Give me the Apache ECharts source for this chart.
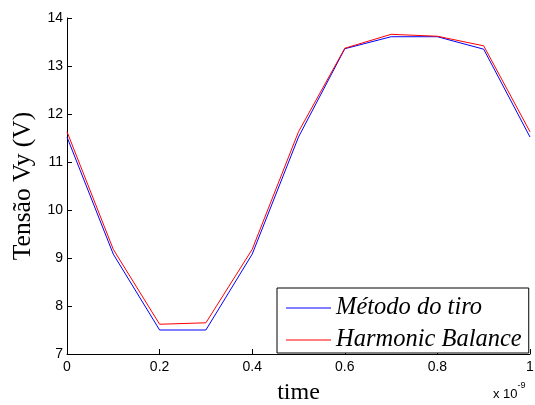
<!DOCTYPE html>
<html>
<head>
<meta charset="utf-8">
<script src="https://cdn.jsdelivr.net/npm/echarts@6/dist/echarts.min.js"></script>
<style>html,body{margin:0;padding:0;background:#fff;}#c{width:535px;height:405px;}</style>
</head>
<body>
<div id="c"></div>
<script>
var timeValues = [0, 0.1, 0.2, 0.3, 0.4, 0.5, 0.6, 0.7, 0.8, 0.9, 1.0];
var metodoDoTiro = [11.52, 9.08, 7.50, 7.50, 9.08, 11.52, 13.36, 13.61, 13.61, 13.35, 11.52];
var harmonicBalance = [11.63, 9.18, 7.62, 7.65, 9.18, 11.63, 13.37, 13.66, 13.62, 13.42, 11.63];
var seriesNames = ['Método do tiro', 'Harmonic Balance'];

function pairs(xs, ys) { return xs.map(function (x, i) { return [x, ys[i]]; }); }

var chart = echarts.init(document.getElementById('c'), null, { renderer: 'canvas' });
var sans = 'Liberation Sans';
var serif = 'Liberation Serif';
chart.setOption({
  animation: false,
  backgroundColor: '#fff',
  grid: { left: 67, right: 5, top: 18, bottom: 51, containLabel: false, outerBoundsMode: 'none' },
  xAxis: {
    type: 'value', min: 0, max: 1, interval: 0.2,
    name: 'time', nameLocation: 'middle', nameGap: 27,
    nameTextStyle: { fontFamily: serif, fontSize: 24, color: '#000' },
    axisLine: { show: true, lineStyle: { color: '#000', width: 1 } },
    axisTick: { show: true, inside: true, length: 5, lineStyle: { color: '#000' } },
    axisLabel: { fontFamily: sans, fontSize: 14, color: '#000', margin: 6,
      formatter: function (v) { return String(Math.round(v * 10) / 10); } },
    splitLine: { show: false }
  },
  yAxis: {
    type: 'value', min: 7, max: 14, interval: 1,
    name: 'Tensão Vy (V)', nameLocation: 'middle', nameGap: 24, nameRotate: 90,
    nameTextStyle: { fontFamily: serif, fontSize: 25.5, color: '#000' },
    axisLine: { show: true, lineStyle: { color: '#000', width: 1 } },
    axisTick: { show: true, inside: true, length: 5, lineStyle: { color: '#000' } },
    axisLabel: { fontFamily: sans, fontSize: 14, color: '#000', margin: 4 },
    splitLine: { show: false }
  },
  legend: {
    orient: 'vertical', left: 277, top: 288,
    padding: [7, 7, 0, 9], itemGap: 6, itemWidth: 45, itemHeight: 12,
    borderColor: '#000', borderWidth: 1, backgroundColor: '#fff',
    textStyle: { fontFamily: serif, fontStyle: 'italic', fontSize: 24.5, lineHeight: 26, color: '#000' },
    data: [
      { name: seriesNames[0], icon: 'path://M0,0 L45,0 L45,1 L0,1 Z' },
      { name: seriesNames[1], icon: 'path://M0,0 L45,0 L45,1 L0,1 Z' }
    ]
  },
  series: [
    { name: seriesNames[0], type: 'line', data: pairs(timeValues, metodoDoTiro), symbol: 'none',
      color: '#0000ff', lineStyle: { color: '#0000ff', width: 1 } },
    { name: seriesNames[1], type: 'line', data: pairs(timeValues, harmonicBalance), symbol: 'none',
      color: '#ff0000', lineStyle: { color: '#ff0000', width: 1 } }
  ],
  graphic: [{
    type: 'text', left: 493, top: 381,
    style: {
      text: '{a|x 10}{b|-9}',
      rich: {
        a: { fontFamily: sans, fontSize: 13, fill: '#000', padding: [7, 0, 0, 0] },
        b: { fontFamily: sans, fontSize: 9, fill: '#000', verticalAlign: 'top' }
      }
    }
  }]
});
</script>
</body>
</html>
